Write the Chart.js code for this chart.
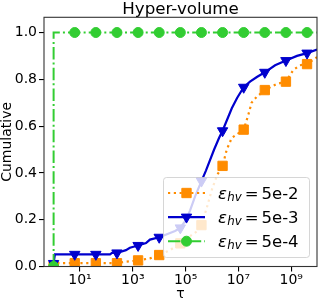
<!DOCTYPE html>
<html><head><meta charset="utf-8">
<script src="https://cdn.jsdelivr.net/npm/chart.js@4/dist/chart.umd.min.js"></script>
<style>html,body{margin:0;padding:0;background:#fff;overflow:hidden}canvas{display:block}</style>
</head><body>
<canvas id="c" width="319" height="300" style="width:319px;height:300px"></canvas>
<script>
// ---- data (tau given as log10 exponents) ----
const titleText = 'Hyper-volume';
const xTitle = 'τ';
const yTitle = 'Cumulative';
const xTickExponents = [1, 3, 5, 7, 9];
const yTickValues = [0, 0.2, 0.4, 0.6, 0.8, 1.0];
const markerLogTau = [0, 0.8, 1.6, 2.4, 3.2, 4.0, 4.8, 5.6, 6.4, 7.2, 8.0, 8.8, 9.6];
const seriesLabels = ['5e-2', '5e-3', '5e-4'];

const orangeLogTau = [0, 0.05, 0.8, 1.6, 2.4, 2.7, 3.2, 3.65, 4.0, 4.41, 4.8, 5.17, 5.43, 5.6, 5.8, 6.0, 6.19, 6.4, 6.56, 6.75, 7.2, 7.38, 7.5, 7.69, 8.0, 8.45, 8.8, 9.08, 9.33, 9.6, 9.98];
const orangeCum    = [0, 0.014, 0.014, 0.014, 0.014, 0.02, 0.026, 0.035, 0.049, 0.07, 0.099, 0.13, 0.15, 0.177, 0.25, 0.33, 0.39, 0.43, 0.5, 0.55, 0.585, 0.65, 0.7, 0.725, 0.754, 0.78, 0.79, 0.84, 0.86, 0.865, 0.895];

const blueLogTau = [0, 0.05, 0.8, 1.6, 2.14, 2.21, 2.4, 2.74, 2.89, 3.2, 3.5, 3.65, 4.0, 4.22, 4.6, 4.8, 5.02, 5.17, 5.36, 5.6, 5.77, 6.08, 6.27, 6.4, 6.75, 6.95, 7.2, 7.44, 7.7, 8.0, 8.39, 8.8, 9.22, 9.6, 9.98];
const blueCum    = [0.013, 0.052, 0.052, 0.052, 0.052, 0.058, 0.058, 0.07, 0.08, 0.09, 0.1, 0.115, 0.125, 0.135, 0.152, 0.165, 0.2, 0.24, 0.3, 0.365, 0.41, 0.5, 0.55, 0.58, 0.676, 0.72, 0.766, 0.79, 0.81, 0.83, 0.86, 0.88, 0.9, 0.912, 0.927];

const greenLogTau = [0, 0, 0.8, 1.6, 2.4, 3.2, 4.0, 4.8, 5.6, 6.4, 7.2, 8.0, 8.8, 9.6, 9.98];
const greenCum    = [0, 1, 1, 1, 1, 1, 1, 1, 1, 1, 1, 1, 1, 1, 1];

// ---- helpers ----
function toPoints(lt, v){ return lt.map((e,i)=>({x: Math.pow(10,e), y: v[i]})); }
function markerRadius(lt, r){
  return (ctx) => {
    const i = ctx.dataIndex;
    if (i > 0 && lt[i-1] === lt[i]) return 0;
    return markerLogTau.some(m => Math.abs(m - lt[i]) < 1e-9) ? r : 0;
  };
}
const SUP = {'0':'⁰','1':'¹','2':'²','3':'³','4':'⁴','5':'⁵','6':'⁶','7':'⁷','8':'⁸','9':'⁹','-':'⁻'};
const FONT = '"DejaVu Sans", sans-serif';
const TARGET = { left: 44, right: 317, top: 17.3, bottom: 266.5 };

const ORANGE = '#ff8c00', BLUE = '#0000cd', GREEN = '#32cd32';

const datasets = [
  { label: seriesLabels[2], data: toPoints(greenLogTau, greenCum), borderColor: GREEN, backgroundColor: GREEN,
    borderWidth: 2, borderDash: [12.5, 3.1, 2, 3.1], pointStyle: 'circle',
    pointRadius: markerRadius(greenLogTau, 5), _lr: 5 },
  { label: seriesLabels[1], data: toPoints(blueLogTau, blueCum), borderColor: BLUE, backgroundColor: BLUE,
    borderWidth: 2.2, borderDash: [], pointStyle: 'triangle', pointRotation: 180,
    pointRadius: markerRadius(blueLogTau, 6), _lr: 6 },
  { label: seriesLabels[0], data: toPoints(orangeLogTau, orangeCum), borderColor: ORANGE, backgroundColor: ORANGE,
    borderWidth: 2.2, borderDash: [2.2, 3.6], pointStyle: 'rect',
    pointRadius: markerRadius(orangeLogTau, 6.6), _lr: 6.6 }
];
datasets.forEach(d => { d.pointBorderWidth = 1; d.pointBorderColor = d.borderColor; d.pointHoverRadius = 0; d.tension = 0; d.fill = false; d.clip = 0; });

function drawMarker(ctx, style, x, y, r, color){
  ctx.save();
  ctx.fillStyle = color; ctx.strokeStyle = color; ctx.lineWidth = 1; ctx.setLineDash([]);
  ctx.beginPath();
  if (style === 'rect') { const s = Math.SQRT1_2 * r; ctx.rect(x - s, y - s, 2*s, 2*s); }
  else if (style === 'triangle') {
    let a = Math.PI; for (let k=0;k<3;k++){ const px = x + Math.sin(a)*r, py = y - Math.cos(a)*r; k?ctx.lineTo(px,py):ctx.moveTo(px,py); a += 2*Math.PI/3; }
    ctx.closePath();
  } else { ctx.arc(x, y, r, 0, 2*Math.PI); }
  ctx.fill(); ctx.stroke();
  ctx.restore();
}

const framePlugin = {
  id: 'frame',
  afterDatasetsDraw(chart){
    const {ctx, chartArea: a} = chart;
    ctx.save();
    ctx.strokeStyle = '#333'; ctx.lineWidth = 1.1; ctx.setLineDash([]);
    ctx.strokeRect(a.left, a.top, a.right - a.left, a.bottom - a.top);
    ctx.restore();
  }
};

const titlePlugin = {
  id: 'mtitle',
  afterDraw(chart){
    const {ctx, chartArea: a} = chart;
    ctx.save();
    ctx.fillStyle = '#000'; ctx.font = '16.7px ' + FONT;
    ctx.textAlign = 'center'; ctx.textBaseline = 'alphabetic';
    ctx.fillText(titleText, (a.left + a.right)/2, 13.5);
    ctx.restore();
  }
};

const legendPlugin = {
  id: 'mlegend',
  afterDraw(chart){
    const ctx = chart.ctx;
    const a = chart.chartArea;
    ctx.save();
    const bw = 146, bh = 80;
    const bx = a.right - 7.5 - bw, by = a.bottom - 9 - bh, rr = 3;
    ctx.beginPath();
    ctx.moveTo(bx+rr, by); ctx.lineTo(bx+bw-rr, by); ctx.quadraticCurveTo(bx+bw, by, bx+bw, by+rr);
    ctx.lineTo(bx+bw, by+bh-rr); ctx.quadraticCurveTo(bx+bw, by+bh, bx+bw-rr, by+bh);
    ctx.lineTo(bx+rr, by+bh); ctx.quadraticCurveTo(bx, by+bh, bx, by+bh-rr);
    ctx.lineTo(bx, by+rr); ctx.quadraticCurveTo(bx, by, bx+rr, by); ctx.closePath();
    ctx.fillStyle = 'rgba(255,255,255,0.8)'; ctx.fill();
    ctx.strokeStyle = 'rgba(204,204,204,0.8)'; ctx.lineWidth = 1; ctx.stroke();
    const order = seriesLabels.map(l => chart.data.datasets.find(d => d.label === l));
    order.forEach((d, i) => {
      const y = by + 15.5 + 24.1*i;
      ctx.strokeStyle = d.borderColor; ctx.lineWidth = d.borderWidth; ctx.setLineDash(d.borderDash || []);
      ctx.beginPath(); ctx.moveTo(bx + 4.5, y); ctx.lineTo(bx + 41.5, y); ctx.stroke();
      ctx.setLineDash([]);
      drawMarker(ctx, d.pointStyle, bx + 23, y, d._lr, d.borderColor);
      const base = y + 5.6;
      let x = bx + 54.5;
      ctx.fillStyle = '#000'; ctx.textAlign = 'left'; ctx.textBaseline = 'alphabetic';
      ctx.font = 'italic 16.5px ' + FONT; ctx.fillText('ε', x, base); x += ctx.measureText('ε').width + 0.3;
      ctx.font = 'italic 11.8px ' + FONT; ctx.fillText('hv', x, base + 2.5); x += ctx.measureText('hv').width + 3;
      ctx.font = '16.5px ' + FONT; ctx.fillText('=', x, base); x += ctx.measureText('=').width + 3;
      ctx.fillText(d.label, x, base);
    });
    ctx.restore();
  }
};

function noLabelPadding(s){
  s._calculatePadding = function(){ this.paddingLeft = 0; this.paddingRight = 0; this.paddingTop = 0; this.paddingBottom = 0; };
}

const options = {
  responsive: false, animation: false, devicePixelRatio: 1,
  layout: { autoPadding: false, padding: { top: 17.3, right: 2, left: 0, bottom: 0 } },
  plugins: { legend: { display: false }, tooltip: { enabled: false }, title: { display: false } },
  elements: { line: { borderCapStyle: 'butt', borderJoinStyle: 'miter' } },
  scales: {
    x: {
      type: 'logarithmic', min: Math.pow(10, -0.364), max: Math.pow(10, 9.977),
      afterBuildTicks: s => { s.ticks = xTickExponents.map(e => ({ value: Math.pow(10, e), major: true })); },
      beforeFit: noLabelPadding,
      afterFit: s => { s.height = 33.5; },
      ticks: { autoSkip: false, maxRotation: 0, color: '#000', padding: 0, font: { family: FONT, size: 14 },
        callback: v => '10' + String(Math.round(Math.log10(v))).split('').map(c => SUP[c]).join('') },
      grid: { display: true, drawOnChartArea: false, drawTicks: true, tickLength: 5, color: '#000', lineWidth: 1.1 },
      border: { display: false },
      title: { display: true, text: xTitle, color: '#000', font: { family: FONT, size: 14, lineHeight: 0.8 }, padding: { top: 0, bottom: 0 } }
    },
    y: {
      type: 'linear', min: 0, max: 1.065,
      afterBuildTicks: s => { s.ticks = yTickValues.map(v => ({ value: v })); },
      beforeFit: noLabelPadding,
      afterFit: s => { s.width = 44; },
      ticks: { autoSkip: false, color: '#000', padding: 2, font: { family: FONT, size: 14 }, callback: v => Number(v).toFixed(1) },
      grid: { display: true, drawOnChartArea: false, drawTicks: true, tickLength: 5, color: '#000', lineWidth: 1.1 },
      border: { display: false },
      title: { display: true, text: yTitle, color: '#000', font: { family: FONT, size: 14, lineHeight: 1.0 }, padding: { top: 0, bottom: 0 } }
    }
  }
};

const chart = new Chart(document.getElementById('c'), {
  type: 'line', data: { datasets }, plugins: [framePlugin, titlePlugin, legendPlugin], options
});

// nudge layout padding so the plot area lands where the reference axes box is
for (let k = 0; k < 4; k++) {
  const a = chart.chartArea, p = chart.config.options.layout.padding;
  const dl = TARGET.left - a.left, dr = a.right - TARGET.right, dt = TARGET.top - a.top, db = a.bottom - TARGET.bottom;
  if (Math.abs(dl) < 0.05 && Math.abs(dr) < 0.05 && Math.abs(dt) < 0.05 && Math.abs(db) < 0.05) break;
  p.left += dl; p.right += dr; p.top += dt; p.bottom += db;
  chart.update('none');
}
</script>
</body></html>
